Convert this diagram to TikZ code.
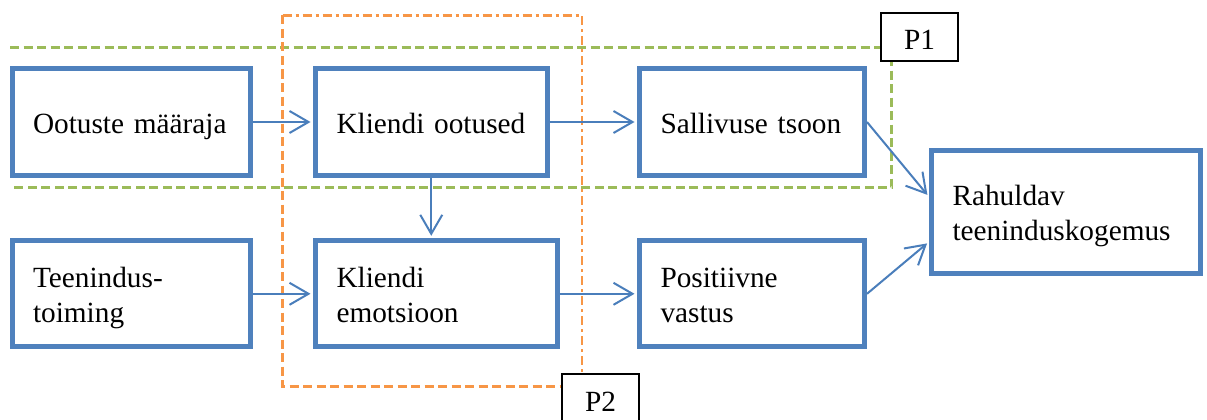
\documentclass[tikz,border=0pt]{standalone}
\usepackage{fontspec}
\setmainfont{Liberation Serif}
\usetikzlibrary{arrows.meta}
\definecolor{boxblue}{HTML}{4F81BD}
\definecolor{arrowblue}{HTML}{4A7EBB}
\definecolor{pgreen}{HTML}{9BBB59}
\definecolor{porange}{HTML}{F79646}
\begin{document}
\begin{tikzpicture}[x=1pt,y=-1pt,
  mainbox/.style={draw=boxblue, line width=5pt, fill=white, rectangle,
    inner xsep=21pt, inner ysep=0pt, align=left, minimum height=106pt,
    font=\fontsize{29.3}{35}\selectfont},
  onel/.style={text height=22pt, text depth=0pt},
  twol/.style={text height=22pt, text depth=35.6pt},
  conn/.style={draw=arrowblue, line width=2pt,
    -{Straight Barb[length=19pt,width=22pt]}, shorten >=2.5pt},
  plabel/.style={draw=black, line width=1.3pt, fill=white, minimum width=77pt,
    minimum height=48pt, inner sep=0pt, text height=26pt, text depth=0pt,
    font=\fontsize{29.3}{35}\selectfont},
  greendash/.style={draw=pgreen, line width=2.6pt, dash pattern=on 9pt off 4.5pt},
  orangedash/.style={draw=porange, line width=2.6pt, dash pattern=on 9pt off 4.5pt},
  orangedashdot/.style={draw=porange, line width=2.6pt, dash pattern=on 9pt off 4pt on 3pt off 4pt}
]
\useasboundingbox (0,0) rectangle (1207,420);
\clip (0,0) rectangle (1207,420);
\fill[white] (0,0) rectangle (1207,420);

% group outlines
\draw[greendash] (10,47.7) -- (891.7,47.7) -- (891.7,187.3) -- (10,187.3);
\draw[orangedashdot] (282.7,15.5) -- (582,15.5) -- (582,386.7);
\draw[orangedash] (282.7,15.5) -- (282.7,386.7) -- (582,386.7);

% boxes
\node[mainbox, onel, text width=196pt] (b1) at (131,122) {Ootuste määraja};
\node[mainbox, onel, text width=189.5pt] (b2) at (431.25,122) {Kliendi ootused};
\node[mainbox, onel, text width=183pt] (b3) at (752,122) {Sallivuse tsoon};
\node[mainbox, twol, text width=196pt] (b4) at (131,293.8) {Teenindus-\\toiming};
\node[mainbox, twol, text width=199.5pt] (b5) at (436.25,293.8) {Kliendi\\emotsioon};
\node[mainbox, twol, text width=183pt] (b6) at (752,293.8) {Positiivne\\vastus};
\node[mainbox, twol, text width=227pt, minimum height=122.5pt] (b7) at (1066,211.8) {Rahuldav\\teeninduskogemus};

% labels
\node[plabel] (p1) at (919.5,37) {P1};
\node[plabel] (p2) at (600.5,398) {P2};

% connectors
\draw[conn] (b1.east) -- (b2.west);
\draw[conn] (b2.east) -- (b3.west);
\draw[conn] (b4.east) -- (b5.west);
\draw[conn] (b5.east) -- (b6.west);
\draw[conn] (b2.south) -- (b2.south |- b5.north);
\coordinate (t1) at ([yshift=15pt]b7.west);
\coordinate (t2) at ([yshift=-30pt]b7.west);
\draw[conn] (b3.east) -- (t1);
\draw[conn] (b6.east) -- (t2);
\end{tikzpicture}
\end{document}
